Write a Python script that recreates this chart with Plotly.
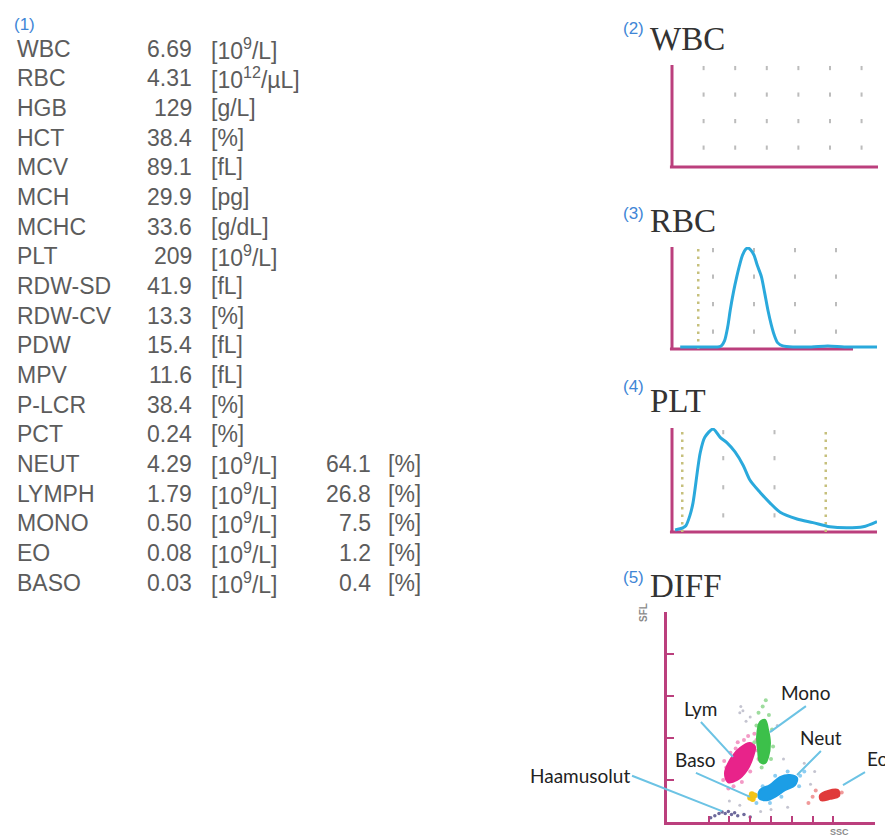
import plotly.graph_objects as go

W, H = 885, 837

# ---------------- data ----------------
param_names = ["WBC", "RBC", "HGB", "HCT", "MCV", "MCH", "MCHC", "PLT", "RDW-SD", "RDW-CV",
               "PDW", "MPV", "P-LCR", "PCT", "NEUT", "LYMPH", "MONO", "EO", "BASO"]
param_values = ["6.69", "4.31", "129", "38.4", "89.1", "29.9", "33.6", "209", "41.9", "13.3",
                "15.4", "11.6", "38.4", "0.24", "4.29", "1.79", "0.50", "0.08", "0.03"]
param_units = ["[10<sup>9</sup>/L]", "[10<sup>12</sup>/µL]", "[g/L]", "[%]", "[fL]", "[pg]", "[g/dL]",
               "[10<sup>9</sup>/L]", "[fL]", "[%]", "[fL]", "[fL]", "[%]", "[%]",
               "[10<sup>9</sup>/L]", "[10<sup>9</sup>/L]", "[10<sup>9</sup>/L]", "[10<sup>9</sup>/L]",
               "[10<sup>9</sup>/L]"]
diff_pct = ["64.1", "26.8", "7.5", "1.2", "0.4"]
diff_pct_unit = "[%]"

panel_titles = ["WBC", "RBC", "PLT", "DIFF"]
panel_numbers = ["(2)", "(3)", "(4)", "(5)"]

# WBC panel (empty histogram, only grid)
wbc_grid_x = [1, 2, 3, 4, 5, 6]
wbc_grid_y = [19, 45, 71, 97]

# RBC histogram
rbc_fl = [10, 25, 40, 55, 60, 64, 68, 71, 75, 79, 83, 86, 90, 93, 96, 100, 104, 109, 113, 117,
          121, 125, 129, 135, 150, 170, 190, 210, 230, 250]
rbc_count = [2, 2, 2, 2, 3, 8, 22, 38, 56, 71, 84, 92, 98, 99, 97, 92, 82, 71, 55, 38,
             24, 13, 6, 3, 2, 2, 3, 2, 2, 2]
rbc_grid_x = [50, 100, 150, 200]
rbc_grid_y = [17, 44, 71, 97]
rbc_disc = [32]

# PLT histogram
plt_fl = [0.6, 2.1, 2.7, 3.5, 4.1, 5.5, 6.4, 8.0, 9.4, 10.7, 12.3, 13.9, 15.2, 17.2, 19.1,
          21.1, 24.4, 27.5, 30.8, 34.1, 37.3, 40.0]
plt_count = [2, 4, 6, 16, 28, 76, 91, 99, 91, 86, 77, 64, 50, 38, 28,
             19, 12.5, 9, 5, 4, 5, 10]
plt_grid_x = [10, 20]
plt_grid_y = [16, 43, 71, 96]
plt_disc = [2, 30]

# DIFF scattergram (SSC vs SFL)
diff_xticks = [2, 3, 4, 5, 6, 7, 8]
diff_yticks = [1, 2, 3, 4, 5]

lym_x = [2.79, 3.13, 3.51, 3.99, 4.23, 4.13, 3.85, 3.37, 2.93]
lym_y = [1.17, 1.55, 1.76, 1.88, 1.79, 1.55, 1.24, 1.00, 0.95]
lym_fx = [2.70, 2.85, 3.05, 3.40, 3.70, 4.30, 4.35, 4.00, 3.60, 3.20, 2.95, 3.30, 3.9, 4.4, 2.75, 4.2]
lym_fy = [1.00, 1.30, 1.65, 1.90, 1.95, 1.95, 1.70, 1.20, 0.95, 0.85, 0.80, 1.75, 2.05, 1.5, 1.45, 2.1]

mono_x = [4.47, 4.71, 4.86, 4.95, 4.86, 4.71, 4.47, 4.38, 4.33]
mono_y = [2.38, 2.43, 2.19, 1.88, 1.55, 1.40, 1.43, 1.71, 2.02]
mono_fx = [4.40, 4.60, 4.30, 5.05, 5.00, 4.55, 4.90, 4.20, 4.75, 5.1]
mono_fy = [2.60, 2.75, 2.30, 2.20, 1.50, 1.30, 2.55, 1.90, 2.9, 1.8]

neut_x = [4.47, 4.95, 5.43, 5.91, 6.25, 6.15, 5.67, 5.19, 4.81, 4.42]
neut_y = [0.76, 0.88, 1.07, 1.12, 1.05, 0.88, 0.76, 0.60, 0.52, 0.57]
neut_fx = [4.30, 4.60, 5.20, 5.80, 6.40, 6.35, 5.50, 4.95, 6.6, 4.25]
neut_fy = [0.45, 0.85, 1.10, 1.20, 1.10, 0.85, 0.60, 0.45, 1.2, 0.65]

eo_x = [7.36, 7.74, 8.22, 8.27, 7.84, 7.40]
eo_y = [0.64, 0.74, 0.76, 0.62, 0.55, 0.52]
eo_fx = [7.00, 7.15, 6.80, 8.4]
eo_fy = [0.60, 0.75, 0.45, 0.7]

baso_x = [4.00, 4.12, 4.20, 4.08]
baso_y = [0.58, 0.55, 0.63, 0.66]

ghost_x = [2.1, 2.3, 2.5, 2.65, 2.8, 2.95, 3.1, 3.25, 3.4, 3.7, 4.0]
ghost_y = [0.10, 0.15, 0.20, 0.24, 0.20, 0.25, 0.18, 0.22, 0.15, 0.18, 0.12]

bg_x = [3.5, 3.8, 4.0, 5.3, 5.6, 6.6, 7.1, 6.9, 3.0, 3.5, 4.5, 5.0, 5.8, 3.65, 3.55]
bg_y = [2.6, 2.4, 2.5, 2.3, 1.5, 1.4, 1.2, 0.9, 0.5, 0.4, 0.25, 0.3, 0.35, 2.65, 2.75]

diff_labels = ["Mono", "Lym", "Neut", "Baso", "Haamusolut", "Eo"]
label_tail_x = [6.68, 1.63, 7.40, 1.39, -1.68, 9.52]
label_tail_y = [2.76, 2.38, 1.69, 1.17, 1.10, 1.19]
label_head_x = [4.95, 3.17, 6.25, 3.99, 2.64, 8.46]
label_head_y = [2.14, 1.55, 1.12, 0.60, 0.26, 0.88]
label_xanchor = ["center", "center", "center", "center", "right", "left"]
label_yanchor = ["bottom", "bottom", "bottom", "bottom", "middle", "bottom"]

# ---------------- styles ----------------
PINK = "#bb3f7d"
CURVE = "#2aa9dc"
GRIDDOT = "#bcbcbc"
OLIVE = "#c6c07c"
TEXT = "#5c5c5c"
NUMBLUE = "#3f86d6"
LEADER = "#6cc3e4"


def dom_x(a, b):
    return [a / W, b / W]


def dom_y(top, bottom):
    return [1 - bottom / H, 1 - top / H]


def px(x):
    return x / W


def py(y):
    return 1 - y / H


fig = go.Figure()


def lattice(xs, ys):
    gx, gy = [], []
    for xv in xs:
        for yv in ys:
            gx.append(xv)
            gy.append(yv)
    return gx, gy


# grid dots
for (gxv, gyv, xa, ya) in [(wbc_grid_x, wbc_grid_y, "x", "y"),
                           (rbc_grid_x, rbc_grid_y, "x2", "y2"),
                           (plt_grid_x, plt_grid_y, "x3", "y3")]:
    lx, ly = lattice(gxv, gyv)
    fig.add_trace(go.Scatter(x=lx, y=ly, xaxis=xa, yaxis=ya, mode="markers",
                             marker=dict(symbol="line-ns", size=3,
                                         line=dict(width=2, color=GRIDDOT)),
                             hoverinfo="skip", showlegend=False))

# discriminator dotted lines
for discs, xa, ya in [(rbc_disc, "x2", "y2"), (plt_disc, "x3", "y3")]:
    for d in discs:
        fig.add_trace(go.Scatter(x=[d, d], y=[0, 100], xaxis=xa, yaxis=ya, mode="lines",
                                 line=dict(color=OLIVE, width=2.5, dash="2.5px,5px"),
                                 hoverinfo="skip", showlegend=False))

# histogram curves
fig.add_trace(go.Scatter(x=rbc_fl, y=rbc_count, xaxis="x2", yaxis="y2", mode="lines",
                         line=dict(color=CURVE, width=3, shape="spline", smoothing=0.8),
                         showlegend=False))
fig.add_trace(go.Scatter(x=plt_fl, y=plt_count, xaxis="x3", yaxis="y3", mode="lines",
                         line=dict(color=CURVE, width=3, shape="spline", smoothing=0.8),
                         showlegend=False))

# DIFF scattergram
fig.add_trace(go.Scatter(x=bg_x, y=bg_y, xaxis="x4", yaxis="y4", mode="markers",
                         marker=dict(size=3, color="#c4c4d0"), showlegend=False))
fig.add_trace(go.Scatter(x=ghost_x, y=ghost_y, xaxis="x4", yaxis="y4", mode="markers",
                         marker=dict(size=3.5, color="#6e6a9c"), showlegend=False))
for cx, cy, fx, fy, col, fcol in [
    (lym_x, lym_y, lym_fx, lym_fy, "#e8238a", "#f39ac6"),
    (mono_x, mono_y, mono_fx, mono_fy, "#3cc04a", "#9edc9e"),
    (neut_x, neut_y, neut_fx, neut_fy, "#1c9ee6", "#8ccdf2"),
    (eo_x, eo_y, eo_fx, eo_fy, "#e03a3a", "#f09a9a"),
]:
    fig.add_trace(go.Scatter(x=fx, y=fy, xaxis="x4", yaxis="y4", mode="markers",
                             marker=dict(size=4, color=fcol), showlegend=False))
    fig.add_trace(go.Scatter(x=cx + [cx[0]], y=cy + [cy[0]], xaxis="x4", yaxis="y4",
                             mode="lines", fill="toself", fillcolor=col,
                             line=dict(color=col, width=2, shape="spline"),
                             showlegend=False))
fig.add_trace(go.Scatter(x=baso_x, y=baso_y, xaxis="x4", yaxis="y4", mode="markers",
                         marker=dict(size=6, color="#f2c418"), showlegend=False))

# ---------------- layout ----------------
base_axis = dict(showgrid=False, zeroline=False, showticklabels=False, ticks="",
                 showline=False, fixedrange=True)

layout = dict(
    width=W, height=H, margin=dict(l=0, r=0, t=0, b=0),
    paper_bgcolor="white", plot_bgcolor="rgba(0,0,0,0)",
    showlegend=False,
    xaxis=dict(base_axis, domain=dom_x(672, 878), range=[0, 6.52], anchor="y"),
    yaxis=dict(base_axis, domain=dom_y(65, 167), range=[0, 100], anchor="x"),
    xaxis2=dict(base_axis, domain=dom_x(672, 877), range=[0, 250], anchor="y2"),
    yaxis2=dict(base_axis, domain=dom_y(247, 349), range=[0, 100], anchor="x2"),
    xaxis3=dict(base_axis, domain=dom_x(672, 877), range=[0, 40], anchor="y3"),
    yaxis3=dict(base_axis, domain=dom_y(428, 532), range=[0, 100], anchor="x3"),
    xaxis4=dict(base_axis, domain=dom_x(667, 875), range=[0, 10], anchor="y4",
                showline=True, linecolor=PINK, linewidth=3, ticks="inside",
                tickvals=diff_xticks, ticklen=6, tickwidth=2, tickcolor=PINK),
    yaxis4=dict(base_axis, domain=dom_y(612, 822), range=[0, 5], anchor="x4",
                showline=True, linecolor=PINK, linewidth=3, ticks="inside",
                tickvals=diff_yticks, ticklen=7, tickwidth=2, tickcolor=PINK),
)
fig.update_layout(**layout)

# pink axes for histograms
shapes = []
for xa, ya, xend in [("x", "y", 1.0), ("x2", "y2", 0.883), ("x3", "y3", 1.0)]:
    shapes.append(dict(type="line", xref=xa + " domain", yref=ya + " domain",
                       x0=0, x1=0, y0=0, y1=1, line=dict(color=PINK, width=3), layer="below"))
    shapes.append(dict(type="line", xref=xa + " domain", yref=ya + " domain",
                       x0=-0.01, x1=xend, y0=0, y1=0, line=dict(color=PINK, width=3), layer="below"))
fig.update_layout(shapes=shapes)

ann = []
# (1) label
ann.append(dict(x=px(12), y=py(24), xref="paper", yref="paper", text="(1)", showarrow=False,
                xanchor="left", yanchor="middle",
                font=dict(family="Liberation Sans", size=17, color=NUMBLUE)))
# table
ROW0, ROWH = 48.5, 29.67
TFONT = dict(family="Liberation Sans", size=23, color=TEXT)
n_rows = len(param_names)
for i in range(n_rows):
    yy = py(ROW0 + ROWH * i)
    ann.append(dict(x=px(15), y=yy, xref="paper", yref="paper", text=param_names[i],
                    showarrow=False, xanchor="left", yanchor="middle", font=TFONT))
    ann.append(dict(x=px(194), y=yy, xref="paper", yref="paper", text=param_values[i],
                    showarrow=False, xanchor="right", yanchor="middle", font=TFONT))
    ann.append(dict(x=px(209), y=yy, xref="paper", yref="paper", text=param_units[i],
                    showarrow=False, xanchor="left", yanchor="middle", font=TFONT))
for j, pv in enumerate(diff_pct):
    i = n_rows - len(diff_pct) + j
    yy = py(ROW0 + ROWH * i)
    ann.append(dict(x=px(373), y=yy, xref="paper", yref="paper", text=pv,
                    showarrow=False, xanchor="right", yanchor="middle", font=TFONT))
    ann.append(dict(x=px(386), y=yy, xref="paper", yref="paper", text=diff_pct_unit,
                    showarrow=False, xanchor="left", yanchor="middle", font=TFONT))

# panel titles
title_cy = [39, 221, 401, 586]
num_cy = [28, 213, 386, 577]
for t, n, tc, nc in zip(panel_titles, panel_numbers, title_cy, num_cy):
    ann.append(dict(x=px(621), y=py(nc), xref="paper", yref="paper", text=n, showarrow=False,
                    xanchor="left", yanchor="middle",
                    font=dict(family="Liberation Sans", size=17, color=NUMBLUE)))
    ann.append(dict(x=px(648), y=py(tc), xref="paper", yref="paper", text=t, showarrow=False,
                    xanchor="left", yanchor="middle",
                    font=dict(family="Liberation Serif", size=33, color="#333333")))

# DIFF axis titles
ann.append(dict(x=px(651), y=py(624), xref="paper", yref="paper", text="<b>SFL</b>", showarrow=False,
                textangle=-90, font=dict(family="Liberation Sans", size=10, color="#8a8a8a")))
ann.append(dict(x=px(839), y=py(826), xref="paper", yref="paper", text="<b>SSC</b>", showarrow=False,
                xanchor="center", yanchor="top", borderpad=0,
                font=dict(family="Liberation Sans", size=9, color="#8a8a8a")))

# DIFF cluster labels with leader lines
for lab, tx, ty, hx, hy, xan, yan in zip(diff_labels, label_tail_x, label_tail_y,
                                         label_head_x, label_head_y, label_xanchor, label_yanchor):
    ann.append(dict(x=hx, y=hy, xref="x4", yref="y4", ax=tx, ay=ty, axref="x4", ayref="y4",
                    text=lab, showarrow=True, arrowhead=0, arrowwidth=2, arrowcolor=LEADER,
                    xanchor=xan, yanchor=yan, standoff=0,
                    font=dict(family="Lato", size=19, color="#222222")))

fig.update_layout(annotations=ann)

fig.write_html("out.html", config={"displayModeBar": False},
               post_script="document.body.style.margin='0';")
